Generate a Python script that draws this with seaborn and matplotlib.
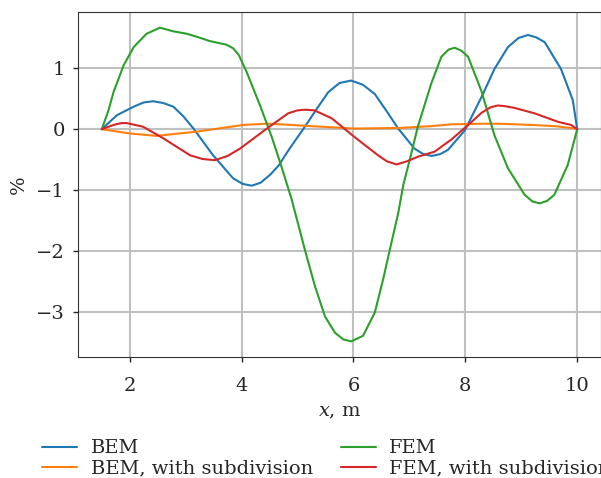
import pandas as pd
import matplotlib
matplotlib.use("Agg")
import matplotlib.pyplot as plt
import seaborn as sns

# values, per series
bem_x = [1.5, 1.77, 2.07, 2.25, 2.42, 2.60, 2.78, 2.96, 3.14, 3.49, 3.85, 4.02, 4.18, 4.34,
         4.51, 4.66, 4.85, 5.13, 5.34, 5.55, 5.75, 5.96, 6.17, 6.38, 6.59, 6.80, 7.09, 7.25,
         7.40, 7.55, 7.69, 7.99, 8.30, 8.52, 8.76, 8.95, 9.12, 9.27, 9.42, 9.71, 9.92, 10.0]
bem_y = [0, 0.23, 0.37, 0.44, 0.46, 0.43, 0.37, 0.21, 0.01, -0.43, -0.81, -0.90, -0.93, -0.88,
         -0.75, -0.60, -0.33, 0.04, 0.33, 0.61, 0.76, 0.80, 0.73, 0.58, 0.30, 0.01, -0.32, -0.41,
         -0.44, -0.41, -0.34, -0.02, 0.55, 0.99, 1.35, 1.50, 1.55, 1.51, 1.43, 0.99, 0.48, 0]

bem_sub_x = [1.5, 2.0, 2.48, 3.2, 4.03, 4.45, 4.71, 5.25, 6.02, 6.80, 7.39, 7.75, 8.29, 8.6,
             9.18, 9.6, 9.89, 10.0]
bem_sub_y = [0, -0.07, -0.11, -0.04, 0.07, 0.09, 0.08, 0.05, 0.01, 0.02, 0.05, 0.08, 0.09, 0.09,
             0.07, 0.05, 0.02, 0]

fem_x = [1.5, 1.62, 1.71, 1.89, 2.07, 2.30, 2.54, 2.78, 3.02, 3.20, 3.43, 3.73, 3.85, 3.95,
         4.09, 4.33, 4.54, 4.70, 4.89, 5.13, 5.31, 5.49, 5.67, 5.82, 5.96, 6.17, 6.38, 6.53,
         6.65, 6.80, 6.89, 7.02, 7.15, 7.39, 7.57, 7.70, 7.81, 7.93, 8.05, 8.29, 8.52, 8.76,
         9.06, 9.20, 9.33, 9.46, 9.59, 9.83, 10.0]
fem_y = [0, 0.31, 0.61, 1.05, 1.35, 1.57, 1.67, 1.61, 1.57, 1.52, 1.45, 1.39, 1.33, 1.22,
         0.94, 0.39, -0.13, -0.58, -1.14, -1.98, -2.58, -3.08, -3.35, -3.46, -3.49, -3.40, -3.02, -2.47,
         -1.98, -1.38, -0.92, -0.45, 0.04, 0.75, 1.19, 1.31, 1.34, 1.29, 1.19, 0.62, -0.10, -0.64,
         -1.08, -1.19, -1.22, -1.18, -1.08, -0.59, 0]

fem_sub_x = [1.5, 1.71, 1.85, 1.95, 2.24, 2.60, 3.08, 3.30, 3.52, 3.75, 3.97, 4.45, 4.83, 5.0,
             5.13, 5.30, 5.61, 6.02, 6.44, 6.60, 6.77, 6.95, 7.16, 7.45, 7.75, 8.05, 8.29, 8.45,
             8.58, 8.70, 8.88, 9.24, 9.66, 9.89, 10.0]
fem_sub_y = [0, 0.07, 0.10, 0.10, 0.04, -0.15, -0.43, -0.49, -0.51, -0.44, -0.32, 0.01, 0.26, 0.31,
             0.32, 0.31, 0.18, -0.13, -0.43, -0.53, -0.58, -0.53, -0.45, -0.37, -0.17, 0.07, 0.27, 0.36,
             0.39, 0.38, 0.35, 0.26, 0.12, 0.07, 0]

labels = ["BEM", "BEM, with subdivision", "FEM", "FEM, with subdivision"]
series = [(bem_x, bem_y), (bem_sub_x, bem_sub_y), (fem_x, fem_y), (fem_sub_x, fem_sub_y)]

frames = []
for lab, (xs, ys) in zip(labels, series):
    frames.append(pd.DataFrame({"x": xs, "y": ys, "method": lab}))
df = pd.concat(frames, ignore_index=True)

sns.set_style("ticks")
plt.rcParams["font.family"] = ["DejaVu Serif"]
plt.rcParams["mathtext.fontset"] = "dejavuserif"
plt.rcParams["font.size"] = 14

fig = plt.figure(figsize=(6.01, 4.78), dpi=100)
ax = fig.add_axes([78 / 601, 1 - 357 / 478, 523 / 601, 345 / 478])

sns.lineplot(data=df, x="x", y="y", hue="method", hue_order=labels,
             palette=sns.color_palette("tab10", 4), sort=False, estimator=None,
             linewidth=1.5, ax=ax)

ax.grid(True, color="#c0c0c0", linewidth=1.5)
ax.set_axisbelow(True)
ax.set_xticks([2, 4, 6, 8, 10])
ax.set_yticks([-3, -2, -1, 0, 1])
ax.tick_params(length=3.5, width=1, pad=6, labelsize=14)
ax.tick_params(axis="x", pad=11)
ax.set_xlabel("$x$, m", labelpad=6)
ax.set_ylabel("%", labelpad=6)
for s in ax.spines.values():
    s.set_color("#333333")

handles, labs = ax.get_legend_handles_labels()
ax.get_legend().remove()
fig.legend(handles, labs, ncol=2, loc="upper left", bbox_to_anchor=(0.057, 0.097),
           frameon=False, handlelength=1.8, handletextpad=0.7, columnspacing=1.43,
           labelspacing=0.1, borderaxespad=0)

fig.savefig("out.png", dpi=100)
